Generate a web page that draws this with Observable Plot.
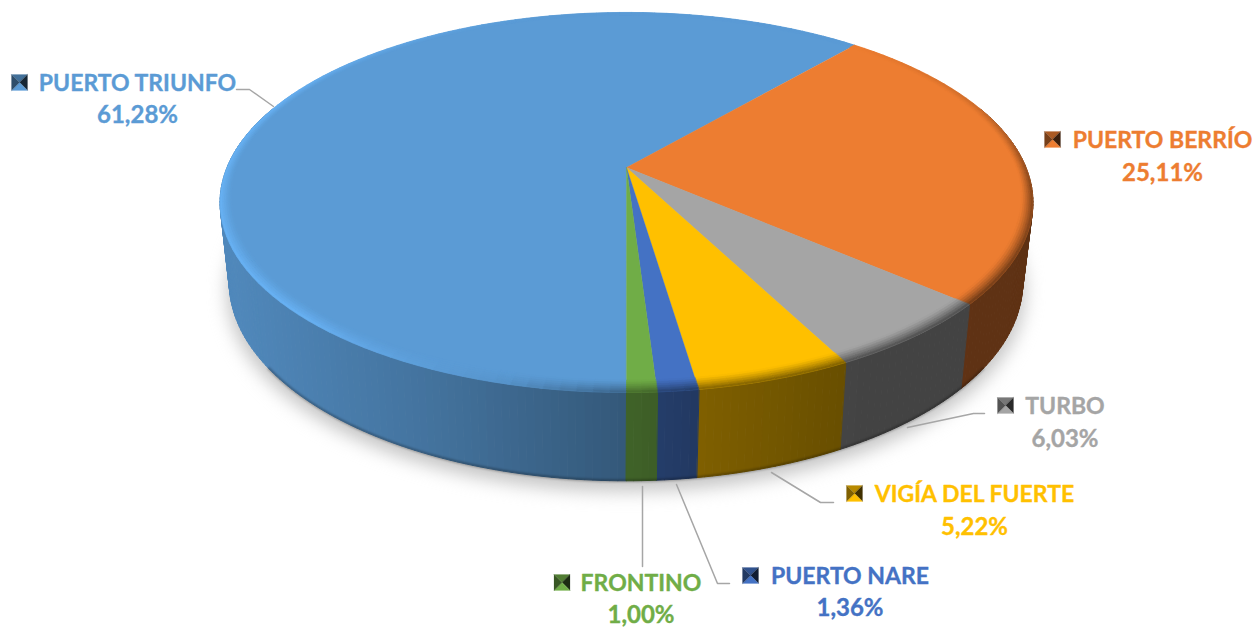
<!DOCTYPE html>
<html><head><meta charset="utf-8">
<style>html,body{margin:0;padding:0;background:#fff}svg{display:block}</style>
<script src="https://cdn.jsdelivr.net/npm/d3@7"></script>
<script src="https://cdn.jsdelivr.net/npm/@observablehq/plot@0.6"></script>
</head><body><div id="chart"></div>
<script>
const categories = ["PUERTO TRIUNFO","PUERTO BERRÍO","TURBO","VIGÍA DEL FUERTE","PUERTO NARE","FRONTINO"];
const shares = [61.28,25.11,6.03,5.22,1.36,1.00];
const colors = ["#5b9bd5","#ed7d31","#a5a5a5","#ffc000","#4472c4","#70ad47"];

// label layout, in the frame's own units
const nameX = [137,1162,1064.5,974,849.5,640.5];
const nameY = [83,140,406,494,576,583];
const valueY = [115,173,439,527,608,615];
const keyX = [11,1044,997,846,742,553.5];
const keyY = [74,131,397,485,567,574];
const leaders = [
  [[236,89],[249,89],[273,106]],
  [],
  [[907,427],[973,413],[984,413]],
  [[771,472],[820,502],[833,502]],
  [[676,484],[717,583],[729,583]],
  [[642,486],[642,566]]
];

// Perspective model of the disc: angle runs clockwise from the back
const K = 0.184;
const topFace = {cx:626, cy:167, A:399.5, B:183.6};
const baseFace = {cx:625.5, cy:245, A:390, B:192};
const rad = d => d*Math.PI/180;
function proj(face, deg, r=1){
  const c = Math.cos(rad(deg)), s = Math.sin(rad(deg)), w = 1 + K*r*c;
  return {x: face.cx + face.A*r*s/w, y: face.cy - face.B*r*c/w};
}
const shade = (hex,f) => { const c=d3.rgb(hex); return d3.rgb(Math.min(255,c.r*f),Math.min(255,c.g*f),Math.min(255,c.b*f)).formatHex(); };

// slices: first one starts at the front of the disc
let acc = 180;
const slices = categories.map((name,i)=>{
  const a0 = acc, a1 = acc + shares[i]*3.6; acc = a1;
  return {name,i,a0,a1,color:colors[i]};
});
function steps(a0,a1,size){
  const n = Math.max(1,Math.ceil((a1-a0)/size)), out=[];
  for(let j=0;j<=n;j++) out.push(a0+(a1-a0)*j/n);
  return out;
}
const norm = a => ((a%360)+360)%360;
const sideF = d3.scaleLinear().domain([-400,-200,0,70,215,400]).range([.88,.74,.57,.5,.41,.40]).clamp(true);
const rimF = d3.scaleLinear().domain([0,40,70,95,130,170,180,195,225,290,320,345,360]).range([1,1,.85,.55,.45,.5,.62,.95,1.15,1.15,1.06,1,1]);
const rimInner = a => 1-(.024+.022*Math.max(0,-Math.cos(rad(a))));

const sidePts=[], topPts=[], rimPts=[];
let zid=0;
for(const s of slices){
  const st = steps(s.a0,s.a1,2), fine = steps(s.a0,s.a1,1);
  // side wall strips
  for(let j=0;j<fine.length-1;j++){
    const mid = norm((fine[j]+fine[j+1])/2);
    if(mid<70||mid>290) continue;
    const p0=proj(topFace,fine[j]),p1=proj(topFace,fine[j+1]),q1=proj(baseFace,fine[j+1]),q0=proj(baseFace,fine[j]);
    const f = shade(s.color,sideF((p0.x+p1.x)/2-topFace.cx));
    const z=zid++;
    for(const p of [p0,p1,q1,q0]) sidePts.push({x:p.x,y:p.y,z,fill:f});
  }
  // top wedge
  const z=zid++;
  topPts.push({x:topFace.cx,y:topFace.cy,z,fill:s.color});
  for(const a of st){const p=proj(topFace,a); topPts.push({x:p.x,y:p.y,z,fill:s.color});}
  // bevelled rim
  const layers=6;
  for(let l=0;l<layers;l++){
    const t=(l+.5)/layers;
    for(let j=0;j<st.length-1;j++){
      const a0=st[j],a1=st[j+1],mid=norm((a0+a1)/2);
      const ff=1+(rimF(mid)-1)*Math.pow(t,1.3);
      const col=shade(s.color,ff);
      const z=zid++;
      const r=(a,q)=>rimInner(a)+(1-rimInner(a))*q/layers;
      const A=proj(topFace,a0,r(a0,l)),B=proj(topFace,a1,r(a1,l)),C=proj(topFace,a1,r(a1,l+1)),D=proj(topFace,a0,r(a0,l+1));
      for(const p of [A,B,C,D]) rimPts.push({x:p.x,y:p.y,z,fill:col});
    }
  }
}
// soft shadow and lower edge
const shadowPts = steps(0,360,3).map(a=>{const p=proj(baseFace,a,1.005);return {x:p.x,y:p.y+9};});
const edgePts = steps(125,235,2).map(a=>proj(baseFace,a));

// legend keys: four shaded facets
const keyPts=[]; const KS=16;
slices.forEach((s,i)=>{
  const x=keyX[i],y=keyY[i],c=[x+KS/2,y+KS/2];
  const corners=[[x,y],[x+KS,y],[x+KS,y+KS],[x,y+KS]];
  const f=[.72,.25,1.0,.5];
  for(let e=0;e<4;e++){
    const z=zid++, col=shade(s.color,f[e]);
    for(const p of [corners[e],corners[(e+1)%4],c]) keyPts.push({x:p[0],y:p[1],z,fill:col});
  }
});
const leaderPts = leaders.flatMap((l,i)=>l.map(p=>({x:p[0],y:p[1],i})));
const labels = slices.map((s,i)=>({name:s.name,value:shares[i].toFixed(2).replace(".",",")+"%",nx:nameX[i],ny:nameY[i],vy:valueY[i],color:s.color}));

const poly = (data,sw=.6) => Plot.line(data,{x:"x",y:"y",z:"z",fill:"fill",stroke:"fill",strokeWidth:sw,curve:"linear-closed"});
const textOpts = {fontFamily:"Lato",fontWeight:700,textAnchor:"middle",lineAnchor:"middle",fill:"color",stroke:"color",strokeWidth:.35};

const chart = Plot.plot({
  width:1254,height:628,margin:0,
  x:{domain:[0,1254],range:[0,1254],axis:null},
  y:{domain:[0,628],range:[0,628],axis:null},
  color:{type:"identity"},
  marks:[
    Plot.line(shadowPts,{x:"x",y:"y",fill:"#c4c4c4",stroke:"none",curve:"linear-closed",imageFilter:"blur(9px)"}),
    poly(sidePts,1),
    Plot.line(edgePts,{x:"x",y:"y",stroke:"#000",strokeOpacity:.3,strokeWidth:2.5,imageFilter:"blur(1.2px)"}),
    poly(topPts,.3),
    poly(rimPts,.6),
    Plot.line(leaderPts,{x:"x",y:"y",z:"i",stroke:"#a6a6a6",strokeWidth:1.5,curve:"linear"}),
    poly(keyPts,.2),
    Plot.text(labels,{x:"nx",y:"ny",text:"name",fontSize:23,...textOpts}),
    Plot.text(labels,{x:"nx",y:"vy",text:"value",fontSize:24,...textOpts})
  ]
});
document.getElementById("chart").append(chart);
</script></body></html>
